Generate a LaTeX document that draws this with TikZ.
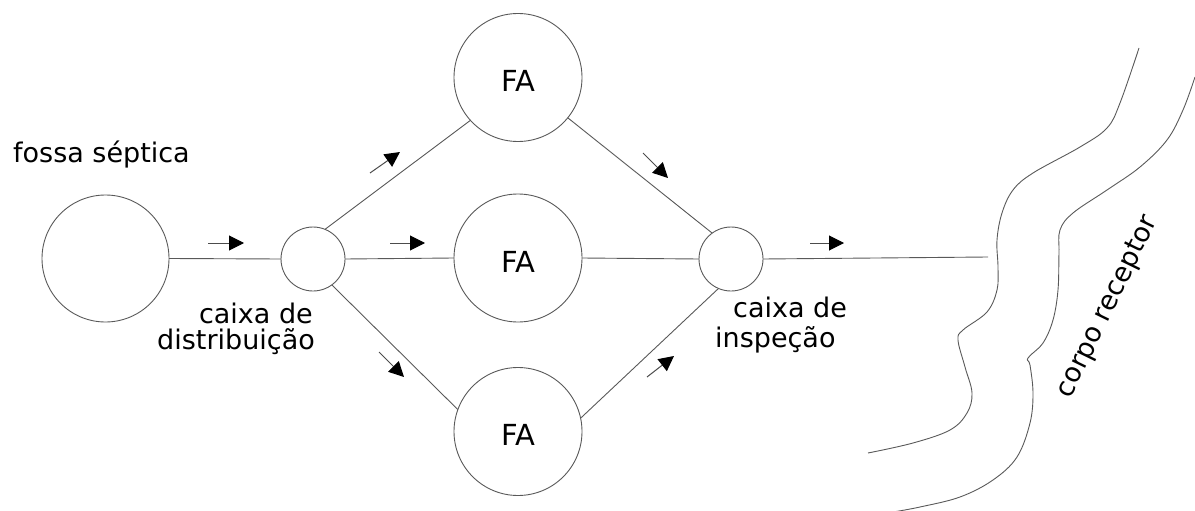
\documentclass[tikz,border=0pt]{standalone}
\usepackage{fontspec}
\setmainfont{DejaVu Sans}
\usetikzlibrary{arrows.meta}
\begin{document}
\begin{tikzpicture}[x=1pt,y=-1pt,
  ln/.style={draw=black!65, line width=0.9pt},
  tank/.style={circle, ln, inner sep=0pt, outer sep=0pt, minimum size=#1},
  flow/.style={draw=black!70, line width=1pt, -{Triangle[length=15pt,width=15pt,color=black,fill=black]}},
  lbl/.style={font=\fontsize{27}{27}\selectfont, inner sep=0pt},
  fa/.style={font=\fontsize{29}{29}\selectfont, text height=28pt}
]
\useasboundingbox (0,0) rectangle (1195,511);
% tanks
\node[tank=127pt] (fossa) at (105.5,258.5) {};
\node[tank=64pt] (dist) at (313,259) {};
\node[tank=128pt, fa] (fa1) at (518,77.5) {FA};
\node[tank=128pt, fa] (fa2) at (518,258) {FA};
\node[tank=128pt, fa] (fa3) at (518,431.5) {FA};
\node[tank=64pt] (insp) at (731,259) {};
\coordinate (rio) at (988,257);
% pipes
\draw[ln] (fossa.east) -- (dist.west);
\draw[ln] (dist.68.8) -- (fa1.222.8);
\draw[ln] (dist.east) -- (fa2.west);
\draw[ln] (dist.-54.5) -- (fa3.160.6);
\draw[ln] (fa1.-39) -- (insp.126);
\draw[ln] (fa2.east) -- (insp.west);
\draw[ln] (fa3.12) -- (insp.247);
\draw[ln] (insp.east) -- (rio);
% flow arrows
\draw[flow] (208,243) -- (244,243);
\draw[flow] (370,173) -- (400,152);
\draw[flow] (390,243) -- (425,243);
\draw[flow] (379,352) -- (404,377);
\draw[flow] (643,153) -- (668,178);
\draw[flow] (647,377) -- (674,356);
\draw[flow] (810,243) -- (844,243);
% labels
\node[lbl, anchor=base west] (lfossa) at (13,162) {fossa séptica};
\node[lbl, anchor=base east] (ld1) at (313,323) {caixa de};
\node[lbl, anchor=base east] (ld2) at (315,349) {distribuição};
\node[lbl, anchor=base west] (li1) at (733,317) {caixa de};
\node[lbl, anchor=base west] (li2) at (715,347) {inspeção};
\node[lbl, rotate=64] (lrio) at (1108,307) {corpo receptor};
% river banks
\draw[ln] plot[smooth, tension=0.6] coordinates {(1139,48) (1120,103) (1107,128) (1080,147) (1033,173) (1013,190) (1002,213) (997,240) (998,267) (997,290) (987,312) (963,330) (958,340) (965,367) (972,393) (967,413) (950,430) (913,443) (868,453)};
\draw[ln] plot[smooth, tension=0.6] coordinates {(1195,77) (1183,110) (1167,140) (1140,167) (1107,190) (1073,213) (1060,230) (1059,253) (1058,290) (1053,320) (1043,343) (1028,358) (1030,365) (1033,393) (1030,423) (1017,457) (993,480) (960,497) (920,507) (893,512)};
\end{tikzpicture}
\end{document}
